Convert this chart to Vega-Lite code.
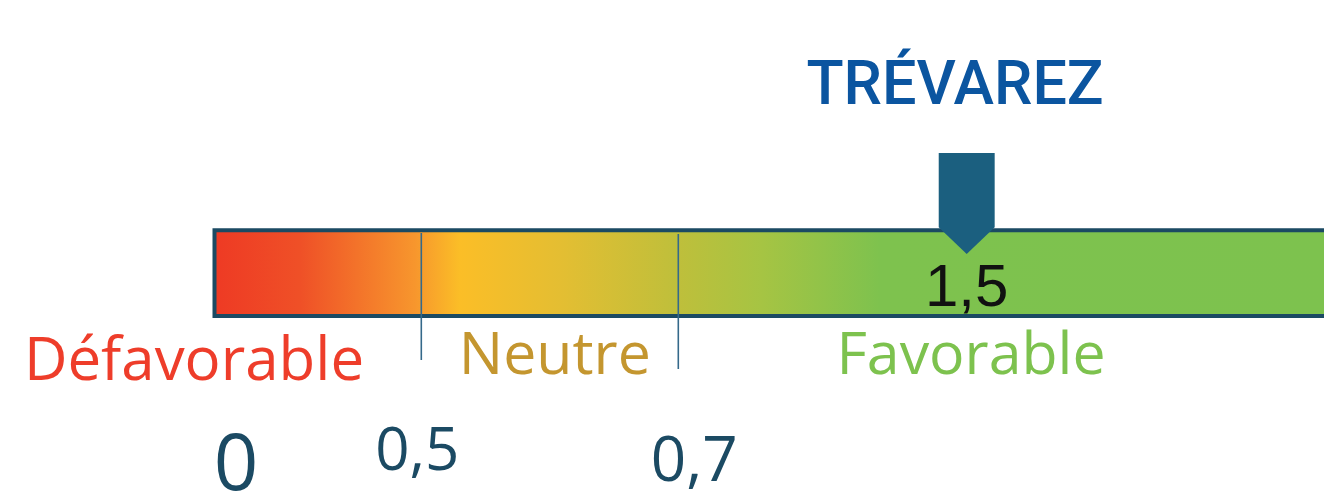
{
  "$schema": "https://vega.github.io/schema/vega-lite/v6.json",
  "width": 1324,
  "height": 494,
  "padding": 0,
  "autosize": {"type": "none"},
  "background": "white",
  "config": {
    "view": {"stroke": null},
    "locale": {"number": {"decimal": ",", "thousands": " ", "grouping": [3], "currency": ["", " €"]}}
  },
  "datasets": {
    "zones": [
      {"zone": "Défavorable", "from": 0, "to": 0.5},
      {"zone": "Neutre", "from": 0.5, "to": 0.7},
      {"zone": "Favorable", "from": 0.7, "to": 2.5}
    ],
    "site": [{"site": "TRÉVAREZ", "value": 1.5}]
  },
  "layer": [
    {
      "data": {"name": "zones"},
      "mark": {
        "type": "rect",
        "stroke": "#1B4A63",
        "strokeWidth": 4,
        "fill": {
          "gradient": "linear", "x1": 0, "x2": 1, "y1": 0, "y2": 0,
          "stops": [
            {"offset": 0, "color": "#EE3A24"},
            {"offset": 0.076, "color": "#EF5027"},
            {"offset": 0.178, "color": "#F7962D"},
            {"offset": 0.218, "color": "#FBBE27"},
            {"offset": 0.307, "color": "#E4BE32"},
            {"offset": 0.413, "color": "#BEBF3B"},
            {"offset": 0.485, "color": "#A6C443"},
            {"offset": 0.591, "color": "#7EC24E"},
            {"offset": 1, "color": "#7DC24E"}
          ]
        }
      },
      "encoding": {
        "x": {"aggregate": "min", "field": "from", "type": "quantitative", "axis": null,
              "scale": {"domain": [0, 0.5, 0.7, 1.5, 2.5], "range": [214.5, 421.3, 678.3, 966.7, 1340], "nice": false, "zero": false}},
        "x2": {"aggregate": "max", "field": "to"},
        "y": {"value": 230.3},
        "y2": {"value": 316}
      }
    },
    {
      "data": {"name": "zones"},
      "transform": [{"filter": "datum.from == 0.5"}],
      "mark": {"type": "rule", "stroke": "#35698A", "strokeWidth": 1.6},
      "encoding": {
        "x": {"field": "from", "type": "quantitative", "axis": null},
        "y": {"value": 233},
        "y2": {"value": 360}
      }
    },
    {
      "data": {"name": "zones"},
      "transform": [{"filter": "datum.from == 0.7"}],
      "mark": {"type": "rule", "stroke": "#35698A", "strokeWidth": 1.6},
      "encoding": {
        "x": {"field": "from", "type": "quantitative", "axis": null},
        "y": {"value": 234},
        "y2": {"value": 369}
      }
    },
    {
      "data": {"name": "site"},
      "mark": {"type": "point", "shape": "M-0.554,-1L0.554,-1L0.554,0.47L0,1L-0.554,0.47Z", "size": 10201, "filled": true, "fill": "#1B5F7F", "opacity": 1, "strokeWidth": 0},
      "encoding": {
        "x": {"field": "value", "type": "quantitative", "axis": null},
        "y": {"value": 203.4}
      }
    },
    {
      "data": {"name": "site"},
      "mark": {"type": "text", "font": "Liberation Sans", "fontSize": 60, "baseline": "alphabetic", "align": "center", "fill": "#111111"},
      "encoding": {
        "x": {"field": "value", "type": "quantitative", "axis": null},
        "y": {"value": 305.5},
        "text": {"field": "value", "type": "quantitative", "format": "~g"}
      }
    },
    {
      "data": {"name": "site"},
      "mark": {"type": "text", "font": "Roboto", "fontWeight": 500, "fontSize": 61, "baseline": "alphabetic", "align": "center", "fill": "#0B55A0", "dx": -11.7},
      "encoding": {
        "x": {"field": "value", "type": "quantitative", "axis": null},
        "y": {"value": 104},
        "text": {"field": "site"}
      }
    },
    {
      "data": {"name": "zones"},
      "transform": [{"filter": "datum.zone == 'Défavorable'"}],
      "mark": {"type": "text", "font": "Open Sans", "fontSize": 60, "baseline": "alphabetic", "align": "center", "fill": "#EE3D2A", "dx": -20.5},
      "encoding": {
        "x": {"field": "from", "type": "quantitative", "axis": null},
        "y": {"value": 380},
        "text": {"field": "zone"}
      }
    },
    {
      "data": {"name": "zones"},
      "transform": [{"filter": "datum.zone == 'Neutre'"}],
      "mark": {"type": "text", "font": "Open Sans", "fontSize": 59, "baseline": "alphabetic", "align": "center", "fill": "#C4962F", "dx": 133.5},
      "encoding": {
        "x": {"field": "from", "type": "quantitative", "axis": null},
        "y": {"value": 374},
        "text": {"field": "zone"}
      }
    },
    {
      "data": {"name": "zones"},
      "transform": [{"filter": "datum.zone == 'Favorable'"}],
      "mark": {"type": "text", "font": "Open Sans", "fontSize": 59, "baseline": "alphabetic", "align": "center", "fill": "#7DC24E", "dx": 292.7},
      "encoding": {
        "x": {"field": "from", "type": "quantitative", "axis": null},
        "y": {"value": 374},
        "text": {"field": "zone"}
      }
    },
    {
      "data": {"name": "zones"},
      "transform": [{"filter": "datum.from == 0"}],
      "mark": {"type": "text", "font": "Open Sans", "fontSize": 78, "baseline": "alphabetic", "align": "center", "fill": "#1B4A63", "dx": 21.5},
      "encoding": {
        "x": {"field": "from", "type": "quantitative", "axis": null},
        "y": {"value": 490},
        "text": {"field": "from", "type": "quantitative", "format": "~g"}
      }
    },
    {
      "data": {"name": "zones"},
      "transform": [{"filter": "datum.from == 0.5"}],
      "mark": {"type": "text", "font": "Open Sans", "fontSize": 60, "baseline": "alphabetic", "align": "center", "fill": "#1B4A63", "dx": -4},
      "encoding": {
        "x": {"field": "from", "type": "quantitative", "axis": null},
        "y": {"value": 470},
        "text": {"field": "from", "type": "quantitative", "format": "~g"}
      }
    },
    {
      "data": {"name": "zones"},
      "transform": [{"filter": "datum.from == 0.7"}],
      "mark": {"type": "text", "font": "Open Sans", "fontSize": 62, "baseline": "alphabetic", "align": "center", "fill": "#1B4A63", "dx": 16},
      "encoding": {
        "x": {"field": "from", "type": "quantitative", "axis": null},
        "y": {"value": 481},
        "text": {"field": "from", "type": "quantitative", "format": "~g"}
      }
    }
  ]
}
